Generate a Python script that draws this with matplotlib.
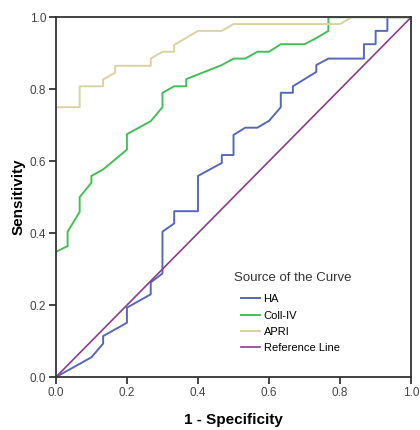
import numpy as np
import matplotlib.pyplot as plt

plt.rcParams['font.family'] = ['Liberation Sans', 'DejaVu Sans']

# ROC points (1 - specificity, sensitivity)
ha_fpr = [0, 0.1, 0.133, 0.133, 0.2, 0.2, 0.267, 0.267, 0.3, 0.3, 0.333, 0.333,
          0.4, 0.4, 0.467, 0.467, 0.5, 0.5, 0.533, 0.567, 0.6, 0.633, 0.633,
          0.667, 0.667, 0.733, 0.733, 0.767, 0.867, 0.867, 0.9, 0.9, 0.933,
          0.933, 1.0]
ha_tpr = [0, 0.055, 0.093, 0.114, 0.151, 0.193, 0.23, 0.263, 0.288, 0.404,
          0.427, 0.461, 0.461, 0.559, 0.595, 0.617, 0.617, 0.673, 0.693,
          0.693, 0.712, 0.75, 0.79, 0.79, 0.808, 0.848, 0.867, 0.885, 0.885,
          0.925, 0.925, 0.962, 0.962, 1.0, 1.0]

coll_fpr = [0, 0.033, 0.033, 0.067, 0.067, 0.1, 0.1, 0.133, 0.2, 0.2, 0.267,
            0.3, 0.3, 0.333, 0.367, 0.367, 0.467, 0.5, 0.533, 0.567, 0.6,
            0.633, 0.7, 0.733, 0.767, 0.767, 1.0]
coll_tpr = [0.348, 0.364, 0.404, 0.459, 0.5, 0.54, 0.559, 0.577, 0.632, 0.675,
            0.711, 0.75, 0.79, 0.808, 0.808, 0.828, 0.867, 0.885, 0.885,
            0.904, 0.904, 0.925, 0.925, 0.942, 0.962, 1.0, 1.0]

apri_fpr = [0, 0.067, 0.067, 0.133, 0.133, 0.167, 0.167, 0.267, 0.267, 0.3,
            0.333, 0.333, 0.4, 0.467, 0.5, 0.8, 0.833, 1.0]
apri_tpr = [0.75, 0.75, 0.808, 0.808, 0.827, 0.846, 0.865, 0.865, 0.885,
            0.904, 0.904, 0.923, 0.962, 0.962, 0.981, 0.981, 1.0, 1.0]

ref_line = [0, 1]
ticks = [0.0, 0.2, 0.4, 0.6, 0.8, 1.0]

fig = plt.figure(figsize=(4.2, 4.3), dpi=100)
ax = fig.add_axes([0.133, 0.123, 0.846, 0.837])

ax.plot(ha_fpr, ha_tpr, color='#5668b8', lw=1.4, label='HA')
ax.plot(coll_fpr, coll_tpr, color='#44bf58', lw=1.4, label='Coll-IV')
ax.plot(apri_fpr, apri_tpr, color='#d8d3a4', lw=1.4, label='APRI')
ax.plot(ref_line, ref_line, color='#8a3d8c', lw=1.2, label='Reference Line')

ax.set_xlim(0, 1)
ax.set_ylim(0, 1)
ax.set_xticks(ticks)
ax.set_yticks(ticks)
ax.set_xticklabels(['%.1f' % t for t in ticks])
ax.set_yticklabels(['%.1f' % t for t in ticks])
ax.tick_params(direction='out', length=5, width=1.2, labelsize=8.5,
               labelcolor='#444444', color='#222222', pad=2)
for s in ax.spines.values():
    s.set_linewidth(1.3)
    s.set_color('#333333')

ax.set_xlabel('1 - Specificity', fontsize=11, fontweight='bold', labelpad=10)
ax.set_ylabel('Sensitivity', fontsize=11, fontweight='bold', labelpad=3)

# legend title drawn on its own so the entries can sit indented below it
ax.text(0.501, 0.275, 'Source of the Curve', transform=ax.transAxes,
        fontsize=9.5, color='#333333', va='center', ha='left')
ax.legend(loc='upper left', bbox_to_anchor=(0.522, 0.23), frameon=False,
          fontsize=8, borderpad=0, borderaxespad=0,
          handlelength=1.7, handletextpad=0.3, labelspacing=0.56)

fig.savefig('out.png', dpi=100)
